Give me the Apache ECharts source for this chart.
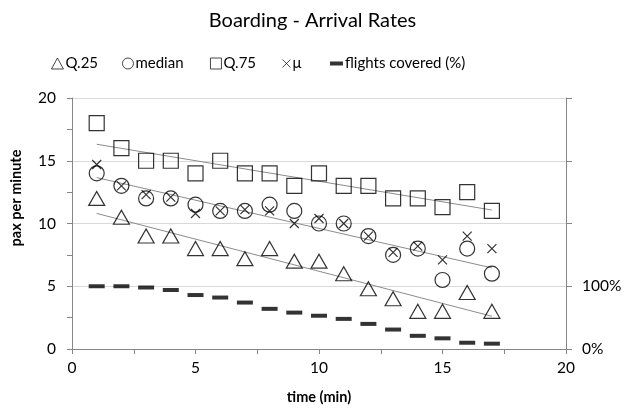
<!DOCTYPE html>
<html>
<head>
<meta charset="utf-8">
<script src="https://cdn.jsdelivr.net/npm/echarts@6/dist/echarts.min.js"></script>
<style>
  html, body { margin: 0; padding: 0; background: #fff; }
  #chart { width: 625px; height: 414px; }
</style>
</head>
<body>
<div id="chart"></div>
<script>
// Minute after boarding start
const minutes = [1, 2, 3, 4, 5, 6, 7, 8, 9, 10, 11, 12, 13, 14, 15, 16, 17];

// Passengers per minute: quartiles and mean
const q25    = [12, 10.5, 9, 9, 8, 8, 7.2, 8, 7, 7, 6, 4.8, 4, 3, 3, 4.5, 3];
const median = [14, 13, 12, 12, 11.5, 11, 11, 11.5, 11, 10, 10, 9, 7.5, 8, 5.5, 8, 6];
const q75    = [18, 16, 15, 15, 14, 15, 14, 14, 13, 14, 13, 13, 12, 12, 11.3, 12.5, 11];
const mean   = [14.7, 13, 12.3, 12.1, 10.8, 11, 11.1, 11, 10, 10.4, 10, 9, 7.7, 8.2, 7.1, 9, 8];

// Share of flights still boarding at each minute (%)
const flightsCovered = [100, 100, 98, 94, 86, 82, 74, 64, 58, 53, 48, 40, 31, 21, 17, 10, 8.5];

// Axis tick labels
const leftTicks = [0, 5, 10, 15, 20];
const rightTickLabels = { 0: '0%', 100: '100%' };

const FONT = 'Lato, "Liberation Sans", sans-serif';
const AXIS_GREY = '#868686';
const GRID_GREY = '#d9d9d9';

function pairs(ys) { return minutes.map((m, i) => [m, ys[i]]); }

// Least-squares linear trend drawn across the observed range
function trend(ys) {
  const n = minutes.length;
  const mx = minutes.reduce((a, b) => a + b, 0) / n;
  const my = ys.reduce((a, b) => a + b, 0) / n;
  let sxy = 0, sxx = 0;
  minutes.forEach((m, i) => { sxy += (m - mx) * (ys[i] - my); sxx += (m - mx) * (m - mx); });
  const b = sxy / sxx, a = my - b * mx;
  const x0 = minutes[0], x1 = minutes[n - 1];
  return [[x0, a + b * x0], [x1, a + b * x1]];
}

const hollow = { color: 'rgba(0,0,0,0)', borderColor: '#000', borderWidth: 1.2 };
const crossPath = 'path://M0,0L10,10M10,0L0,10';

function trendSeries(ys) {
  return {
    type: 'line', data: trend(ys), symbol: 'none', silent: true,
    lineStyle: { color: '#8c8c8c', width: 1 }, z: 1
  };
}

const legendBase = {
  top: 51, itemGap: 0, itemHeight: 11,
  textStyle: { fontFamily: FONT, fontSize: 15, color: '#000', padding: [0, 0, 0, -3] },
  selectedMode: false
};

function legendAt(left, name, w, h, style) {
  return Object.assign({}, legendBase, {
    left: left, data: [name], itemWidth: w, itemHeight: h, itemStyle: style
  });
}

const thinIcon = { color: 'rgba(0,0,0,0)', borderColor: '#000', borderWidth: 0.9 };

const option = {
  animation: false,
  backgroundColor: '#fff',
  title: {
    text: 'Boarding - Arrival Rates',
    left: 'center', top: 6,
    textStyle: { fontFamily: FONT, fontSize: 20, fontWeight: 'normal', color: '#000' }
  },
  legend: [
    legendAt(46, 'Q.25', 12, 11, thinIcon),
    legendAt(117, 'median', 11, 11, thinIcon),
    legendAt(205, 'Q.75', 11, 11, thinIcon),
    legendAt(277, '\u03bc', 8, 8, thinIcon),
    legendAt(325, 'flights covered (%)', 13, 4, { color: '#000', borderWidth: 0 })
  ],
  grid: { left: 72, right: 59, top: 98, bottom: 65, containLabel: false },
  xAxis: {
    type: 'value', min: 0, max: 20, interval: 5,
    name: 'time (min)', nameLocation: 'middle', nameGap: 41,
    nameTextStyle: { fontFamily: FONT, fontSize: 14.5, fontWeight: 'bold', color: '#000' },
    axisLine: { show: true, onZero: false, lineStyle: { color: AXIS_GREY, width: 1 } },
    axisTick: { show: true, length: 5, lineStyle: { color: AXIS_GREY } },
    minorTick: { show: true, splitNumber: 2, length: 5, lineStyle: { color: AXIS_GREY } },
    axisLabel: { fontFamily: FONT, fontSize: 15.5, color: '#000', margin: 11 },
    splitLine: { show: false }
  },
  yAxis: [
    {
      type: 'value', min: leftTicks[0], max: leftTicks[leftTicks.length - 1], interval: 5,
      position: 'left',
      axisLine: { show: true, lineStyle: { color: AXIS_GREY, width: 1 } },
      axisTick: { show: true, length: 5, lineStyle: { color: AXIS_GREY } },
      minorTick: { show: true, splitNumber: 2, length: 5, lineStyle: { color: AXIS_GREY } },
      axisLabel: { fontFamily: FONT, fontSize: 15.5, color: '#000', margin: 16 },
      splitLine: { show: true, lineStyle: { color: GRID_GREY, width: 1 } }
    },
    {
      type: 'value', min: 0, max: 400, interval: 100,
      position: 'right',
      axisLine: { show: true, lineStyle: { color: AXIS_GREY, width: 1 } },
      axisTick: { show: true, length: 6, lineStyle: { color: AXIS_GREY } },
      axisLabel: {
        fontFamily: FONT, fontSize: 15.5, color: '#000', margin: 16,
        formatter: v => rightTickLabels[v] || ''
      },
      splitLine: { show: false }
    }
  ],
  graphic: [
    {
      type: 'text',
      x: 16, y: 198,
      rotation: Math.PI / 2,
      style: {
        text: 'pax per minute',
        fontFamily: FONT, fontSize: 14.5, fontWeight: 'bold', fill: '#000',
        align: 'center', verticalAlign: 'middle'
      }
    }
  ],
  series: [
    trendSeries(q75),
    trendSeries(median),
    trendSeries(q25),
    {
      name: 'Q.25', type: 'scatter', data: pairs(q25),
      symbol: 'triangle', symbolSize: [16, 14], itemStyle: hollow, z: 3
    },
    {
      name: 'median', type: 'scatter', data: pairs(median),
      symbol: 'circle', symbolSize: 15, itemStyle: hollow, z: 3
    },
    {
      name: 'Q.75', type: 'scatter', data: pairs(q75),
      symbol: 'rect', symbolSize: 15, itemStyle: hollow, z: 3
    },
    {
      name: '\u03bc', type: 'scatter', data: pairs(mean),
      symbol: crossPath, symbolSize: 9, itemStyle: hollow, z: 4
    },
    {
      name: 'flights covered (%)', type: 'scatter', yAxisIndex: 1, data: pairs(flightsCovered),
      symbol: 'rect', symbolSize: [16, 4], itemStyle: { color: '#000' }, z: 3
    }
  ]
};

const chart = echarts.init(document.getElementById('chart'), null, { renderer: 'canvas' });
chart.setOption(option);
</script>
</body>
</html>
